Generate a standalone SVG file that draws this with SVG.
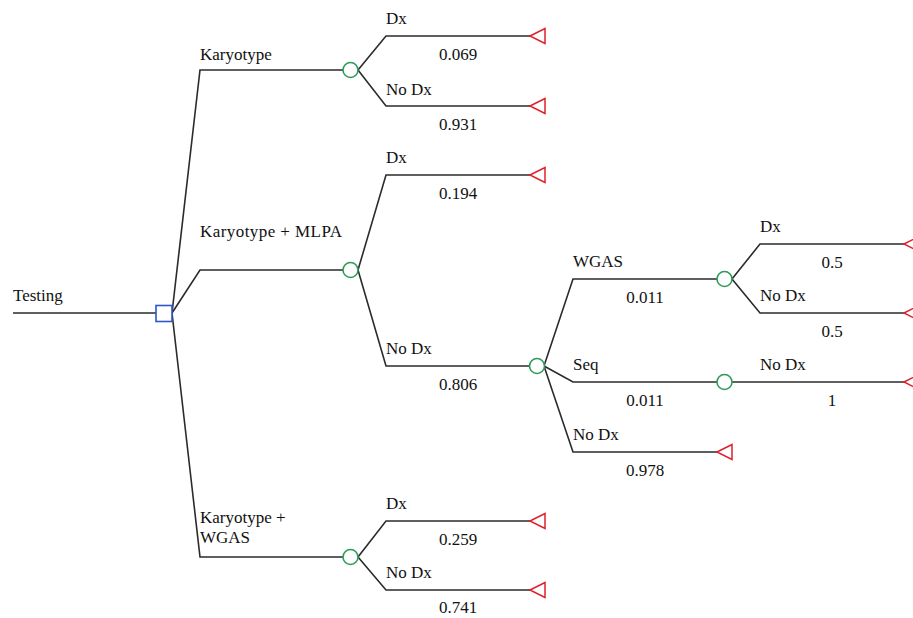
<svg xmlns="http://www.w3.org/2000/svg" width="913" height="618" viewBox="0 0 913 618">
<rect width="913" height="618" fill="#fff"/>
<g id="connectors" fill="none" stroke="#2b2b2b" stroke-width="1.6">
<path d="M13,313 H156"/>
<path d="M172,313 L200,70 H343"/>
<path d="M172,313 L200,270 H343"/>
<path d="M172,313 L200,557 H343"/>
<path d="M358,70 L386,36 H530"/>
<path d="M358,70 L386,106 H530"/>
<path d="M358,270 L386,175 H530"/>
<path d="M358,270 L386,366 H530"/>
<path d="M358,557 L386,521 H530"/>
<path d="M358,557 L386,590 H530"/>
<path d="M544,366 L573,279 H717"/>
<path d="M544,366 L573,382 H717"/>
<path d="M544,366 L573,452 H717"/>
<path d="M732,279 L760,244 H904"/>
<path d="M732,279 L760,313 H904"/>
<path d="M732,382 H904"/>
</g>
<g id="testing"><text x="13" y="301" font-family="Liberation Serif" font-size="17" fill="#111">Testing</text></g>
<g id="decision"><rect x="156" y="305.5" width="16" height="16" fill="#fff" stroke="#2f56c8" stroke-width="1.6"/></g>
<g id="karyotype">
<text x="200" y="60" font-family="Liberation Serif" font-size="17" fill="#111">Karyotype</text>
<circle cx="350.5" cy="70" r="7.5" fill="#fff" stroke="#2e9a5a" stroke-width="1.6"/>
</g>
<g id="k_dx"><text x="386" y="24" font-family="Liberation Serif" font-size="17" fill="#111">Dx</text><text x="458" y="60" text-anchor="middle" font-family="Liberation Serif" font-size="17" fill="#111">0.069</text><polygon points="530,36 545,28.5 545,43.5" fill="#fff" stroke="#e0202a" stroke-width="1.5"/></g>
<g id="k_nodx"><text x="386" y="95" font-family="Liberation Serif" font-size="17" fill="#111">No Dx</text><text x="458" y="130" text-anchor="middle" font-family="Liberation Serif" font-size="17" fill="#111">0.931</text><polygon points="530,106 545,98.5 545,113.5" fill="#fff" stroke="#e0202a" stroke-width="1.5"/></g>
<g id="mlpa">
<text x="200" y="237" textLength="142" font-family="Liberation Serif" font-size="17" fill="#111">Karyotype + MLPA</text>
<circle cx="350.5" cy="270" r="7.5" fill="#fff" stroke="#2e9a5a" stroke-width="1.6"/>
</g>
<g id="m_dx"><text x="386" y="163" font-family="Liberation Serif" font-size="17" fill="#111">Dx</text><text x="458" y="199" text-anchor="middle" font-family="Liberation Serif" font-size="17" fill="#111">0.194</text><polygon points="530,175 545,167.5 545,182.5" fill="#fff" stroke="#e0202a" stroke-width="1.5"/></g>
<g id="m_nodx">
<text x="386" y="354" font-family="Liberation Serif" font-size="17" fill="#111">No Dx</text><text x="458" y="390" text-anchor="middle" font-family="Liberation Serif" font-size="17" fill="#111">0.806</text>
<circle cx="537" cy="366" r="7.5" fill="#fff" stroke="#2e9a5a" stroke-width="1.6"/>
</g>
<g id="wgas">
<text x="573" y="267" font-family="Liberation Serif" font-size="17" fill="#111">WGAS</text><text x="645" y="303" text-anchor="middle" font-family="Liberation Serif" font-size="17" fill="#111">0.011</text>
<circle cx="724.5" cy="279" r="7.5" fill="#fff" stroke="#2e9a5a" stroke-width="1.6"/>
</g>
<g id="w_dx"><text x="760" y="232" font-family="Liberation Serif" font-size="17" fill="#111">Dx</text><text x="832" y="268" text-anchor="middle" font-family="Liberation Serif" font-size="17" fill="#111">0.5</text><polygon points="904,244 919,236.5 919,251.5" fill="#fff" stroke="#e0202a" stroke-width="1.5"/></g>
<g id="w_nodx"><text x="760" y="301" font-family="Liberation Serif" font-size="17" fill="#111">No Dx</text><text x="832" y="337" text-anchor="middle" font-family="Liberation Serif" font-size="17" fill="#111">0.5</text><polygon points="904,313 919,305.5 919,320.5" fill="#fff" stroke="#e0202a" stroke-width="1.5"/></g>
<g id="seq">
<text x="573" y="370" font-family="Liberation Serif" font-size="17" fill="#111">Seq</text><text x="645" y="406" text-anchor="middle" font-family="Liberation Serif" font-size="17" fill="#111">0.011</text>
<circle cx="724.5" cy="382" r="7.5" fill="#fff" stroke="#2e9a5a" stroke-width="1.6"/>
</g>
<g id="s_nodx"><text x="760" y="370" font-family="Liberation Serif" font-size="17" fill="#111">No Dx</text><text x="832" y="406" text-anchor="middle" font-family="Liberation Serif" font-size="17" fill="#111">1</text><polygon points="904,382 919,374.5 919,389.5" fill="#fff" stroke="#e0202a" stroke-width="1.5"/></g>
<g id="m_nodx_nodx"><text x="573" y="440" font-family="Liberation Serif" font-size="17" fill="#111">No Dx</text><text x="645" y="476" text-anchor="middle" font-family="Liberation Serif" font-size="17" fill="#111">0.978</text><polygon points="717,452 732,444.5 732,459.5" fill="#fff" stroke="#e0202a" stroke-width="1.5"/></g>
<g id="kwgas">
<text x="200" y="523" font-family="Liberation Serif" font-size="17" fill="#111">Karyotype +</text>
<text x="200" y="543" font-family="Liberation Serif" font-size="17" fill="#111">WGAS</text>
<circle cx="350.5" cy="557" r="7.5" fill="#fff" stroke="#2e9a5a" stroke-width="1.6"/>
</g>
<g id="kw_dx"><text x="386" y="509" font-family="Liberation Serif" font-size="17" fill="#111">Dx</text><text x="458" y="545" text-anchor="middle" font-family="Liberation Serif" font-size="17" fill="#111">0.259</text><polygon points="530,521 545,513.5 545,528.5" fill="#fff" stroke="#e0202a" stroke-width="1.5"/></g>
<g id="kw_nodx"><text x="386" y="578" font-family="Liberation Serif" font-size="17" fill="#111">No Dx</text><text x="458" y="613" text-anchor="middle" font-family="Liberation Serif" font-size="17" fill="#111">0.741</text><polygon points="530,590 545,582.5 545,597.5" fill="#fff" stroke="#e0202a" stroke-width="1.5"/></g>
</svg>
